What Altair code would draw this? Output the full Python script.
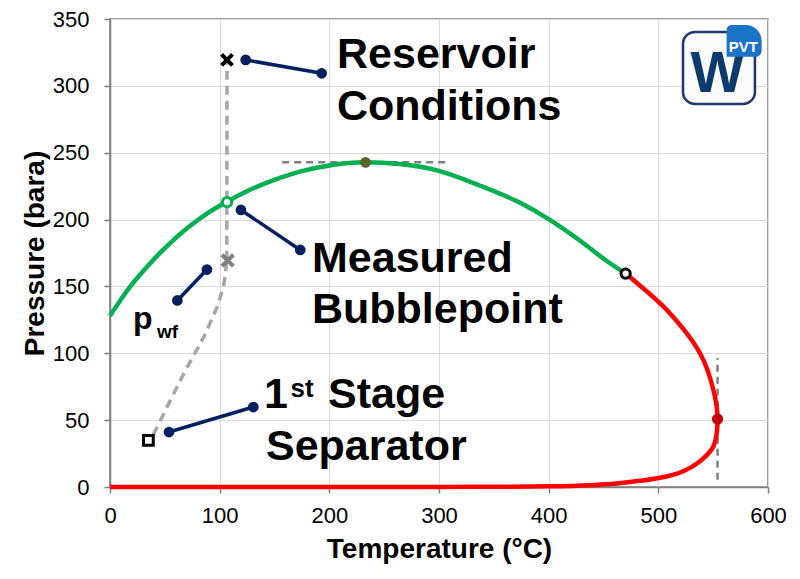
import altair as alt
import pandas as pd

FONT = "Liberation Sans"

# ---------------- data ----------------
# bubble-point curve (green)
bub_T = [0, 16.4, 34.6, 52.9, 71.1, 89.4, 106, 125.8, 155, 173, 200, 233, 264, 299, 337, 374, 400, 429, 453, 470.2]
bub_P = [128, 147.7, 165.5, 180.9, 194, 205, 213.2, 221.6, 231.2, 235.9, 240.5, 242.8, 241.5, 236.6, 225.5, 212.5, 200.3, 184, 169, 159.6]

# dew-point curve (red)
dew_T = [470.2, 477, 507.6, 538, 550.2, 554, 550.2, 538, 522.8, 507.6, 483, 462, 438, 401, 350, 300, 0]
dew_P = [159.6, 155, 132.5, 100, 72.7, 50.8, 30.3, 19.3, 11.8, 7.9, 4.6, 2.6, 1.4, 0.5, 0.15, 0.05, 0]

# production path (grey dashed): separator -> pwf, then straight up to reservoir
path_T = [39.5, 66.8, 91.2, 100.5, 104.8, 106.5]
path_P = [39, 84, 122.6, 142, 157, 170]
riser_T = [106.5, 106.7]
riser_P = [170, 319.4]

# key points
pt_names = ["Reservoir", "pwf", "Measured Pb", "Cricondenbar", "Critical", "Cricondentherm", "Separator"]
pt_T = [106.7, 107.3, 106.7, 233, 470.2, 554, 35]
pt_P = [319.4, 169.4, 213, 242.8, 159.6, 50.8, 34.8]

# annotation leader lines (start, end)
lead_id = ["res", "res", "pb", "pb", "pwf", "pwf", "sep", "sep"]
lead_T = [123.7, 193, 119.4, 173.5, 61.4, 88.4, 53.8, 130.7]
lead_P = [319.4, 309.4, 207.2, 177.3, 139.5, 162.6, 41.1, 59.8]

# guide lines at cricondenbar / cricondentherm
hguide_T = [157, 308.5]
hguide_P = [242.8, 242.8]
vguide_T = [554, 554]
vguide_P = [5.5, 96.4]

# ---------------- scales / axes ----------------
xs = alt.Scale(domain=[0, 600], nice=False, zero=False)
ys = alt.Scale(domain=[0, 350], nice=False, zero=False)

x_axis = alt.Axis(
    values=list(range(0, 601, 100)), grid=True, gridColor="#d9d9d9", gridWidth=1,
    domainColor="#7f7f7f", domainWidth=1.5, tickColor="#7f7f7f", tickSize=6, tickWidth=1.5,
    labelFont=FONT, labelFontSize=22, labelColor="black", labelPadding=12, labelFlush=False,
    title="Temperature (°C)", titleFont=FONT, titleFontSize=28, titleFontWeight="bold",
    titleColor="black", titleY=70, titleBaseline="alphabetic",
)
y_axis = alt.Axis(
    values=list(range(0, 351, 50)), grid=True, gridColor="#d9d9d9", gridWidth=1,
    domainColor="#7f7f7f", domainWidth=1.5, tickColor="#7f7f7f", tickSize=6, tickWidth=1.5,
    labelFont=FONT, labelFontSize=22, labelColor="black", labelPadding=15, labelFlush=False,
    title="Pressure (bara)", titleFont=FONT, titleFontSize=28, titleFontWeight="bold",
    titleColor="black", titleX=-67, titleY=234, titleBaseline="alphabetic", titleAngle=270,
)

X = alt.X("T:Q", scale=xs, axis=x_axis)
Y = alt.Y("P:Q", scale=ys, axis=y_axis)


def seq(ts, ps):
    return pd.DataFrame({"T": ts, "P": ps, "i": list(range(len(ts)))})


# ---------------- layers ----------------
guides = alt.Chart(pd.concat([
    seq(hguide_T, hguide_P).assign(g="h"),
    seq(vguide_T, vguide_P).assign(g="v"),
])).mark_line(color="#808080", strokeWidth=2.5, strokeDash=[7, 5]).encode(
    x=X, y=Y, detail="g:N", order="i:Q")

path = alt.Chart(seq(path_T, path_P)).mark_line(
    color="#a6a6a6", strokeWidth=3.5, strokeDash=[9, 6], interpolate="monotone"
).encode(x=X, y=Y, order="i:Q")

riser = alt.Chart(seq(riser_T, riser_P)).mark_line(
    color="#a6a6a6", strokeWidth=3.5, strokeDash=[9, 6]
).encode(x=X, y=Y, order="i:Q")

bubble = alt.Chart(seq(bub_T, bub_P)).mark_line(
    color="#00b050", strokeWidth=4.5, interpolate="monotone"
).encode(x=X, y=Y, order="i:Q")

dew = alt.Chart(seq(dew_T, dew_P)).mark_line(
    color="#ff0000", strokeWidth=4.5, interpolate="catmull-rom"
).encode(x=X, y=Y, order="i:Q")

lead_df = pd.DataFrame({"T": lead_T, "P": lead_P, "g": lead_id})
leaders = alt.Chart(lead_df).mark_line(color="#002060", strokeWidth=3.5).encode(
    x=X, y=Y, detail="g:N")
lead_dots = alt.Chart(lead_df).mark_circle(color="#002060", size=115, opacity=1).encode(x=X, y=Y)

pts = pd.DataFrame({"T": pt_T, "P": pt_P, "name": pt_names})
XSHAPE = "M-1,-1L1,1M1,-1L-1,1"


def point_layer(name, **kw):
    return alt.Chart(pts).transform_filter(alt.datum.name == name).mark_point(**kw).encode(x=X, y=Y)


m_res = point_layer("Reservoir", shape=XSHAPE, filled=False, color="black", strokeWidth=4, size=120, opacity=1)
m_pwf = point_layer("pwf", shape=XSHAPE, filled=False, color="#7f7f7f", strokeWidth=4, size=130, opacity=1)
m_pb = point_layer("Measured Pb", shape="circle", filled=True, fill="white", stroke="#00b050",
                   strokeWidth=3, size=85, opacity=1)
m_cb = point_layer("Cricondenbar", shape="circle", filled=True, color="#5a6229", size=115, opacity=1)
m_cp = point_layer("Critical", shape="circle", filled=True, fill="white", stroke="black",
                   strokeWidth=3, size=85, opacity=1)
m_ct = point_layer("Cricondentherm", shape="circle", filled=True, color="#c00000", size=125, opacity=1)
m_sep = point_layer("Separator", shape="square", filled=True, fill="white", stroke="black",
                    strokeWidth=3, size=95, opacity=1)

# ---------------- annotation text ----------------
big_lbl = pd.DataFrame({
    "T": [207, 207, 184.2, 184.2, 140.4, 198.8, 142.2],
    "P": [313.2, 274.5, 161.1, 122.6, 59.3, 59.3, 20.4],
    "label": ["Reservoir", "Conditions", "Measured", "Bubblepoint", "1", "Stage", "Separator"],
})
big_text = alt.Chart(big_lbl).mark_text(
    align="left", baseline="alphabetic", font=FONT, fontWeight="bold", fontSize=43, color="black"
).encode(x=X, y=Y, text="label:N")

sup_text = alt.Chart(pd.DataFrame({"T": [164.6], "P": [67.5], "label": ["st"]})).mark_text(
    align="left", baseline="alphabetic", font=FONT, fontWeight="bold", fontSize=26, color="black"
).encode(x=X, y=Y, text="label:N")

p_text = alt.Chart(pd.DataFrame({"T": [21], "P": [118], "label": ["p"]})).mark_text(
    align="left", baseline="alphabetic", font=FONT, fontWeight="bold", fontSize=32, color="black"
).encode(x=X, y=Y, text="label:N")

wf_text = alt.Chart(pd.DataFrame({"T": [42.9], "P": [111.6], "label": ["wf"]})).mark_text(
    align="left", baseline="alphabetic", font=FONT, fontWeight="bold", fontSize=19, color="black"
).encode(x=X, y=Y, text="label:N")

# ---------------- logo ----------------
logo_box = alt.Chart(pd.DataFrame({"T": [522.5], "T2": [588.1], "P": [340.3], "P2": [286.5]})).mark_rect(
    fill="#fafafa", stroke="#1f3864", strokeWidth=2.5, cornerRadius=12
).encode(x=X, x2="T2:Q", y=Y, y2="P2:Q")

logo_w = alt.Chart(pd.DataFrame({"T": [553.9], "P": [295.4], "label": ["W"]})).mark_text(
    align="center", baseline="alphabetic", font=FONT, fontWeight="bold", fontSize=57, color="#0d3b6e"
).encode(x=X, y=Y, text="label:N")

logo_badge = alt.Chart(pd.DataFrame({"T": [562.3], "T2": [594.2], "P": [345.5], "P2": [321.8]})).mark_rect(
    fill="#1a73c6", cornerRadiusTopRight=16, cornerRadiusTopLeft=5, cornerRadiusBottomRight=6
).encode(x=X, x2="T2:Q", y=Y, y2="P2:Q")

logo_pvt = alt.Chart(pd.DataFrame({"T": [577.5], "P": [325.5], "label": ["PVT"]})).mark_text(
    align="center", baseline="alphabetic", font=FONT, fontWeight="bold", fontSize=15, color="white"
).encode(x=X, y=Y, text="label:N")

chart = alt.layer(
    guides, path, riser, bubble, dew, leaders, lead_dots,
    m_res, m_pwf, m_pb, m_cb, m_cp, m_ct, m_sep,
    big_text, sup_text, p_text, wf_text,
    logo_box, logo_w, logo_badge, logo_pvt,
).properties(
    width=658, height=468,
    autosize=alt.AutoSizeParams(type="none"),
    padding={"left": 110, "top": 19, "right": 32, "bottom": 92},
    background="white",
).configure_view(stroke="#7f7f7f", strokeWidth=1.5)

chart.save("out.html", embed_options={"renderer": "svg", "actions": False})
